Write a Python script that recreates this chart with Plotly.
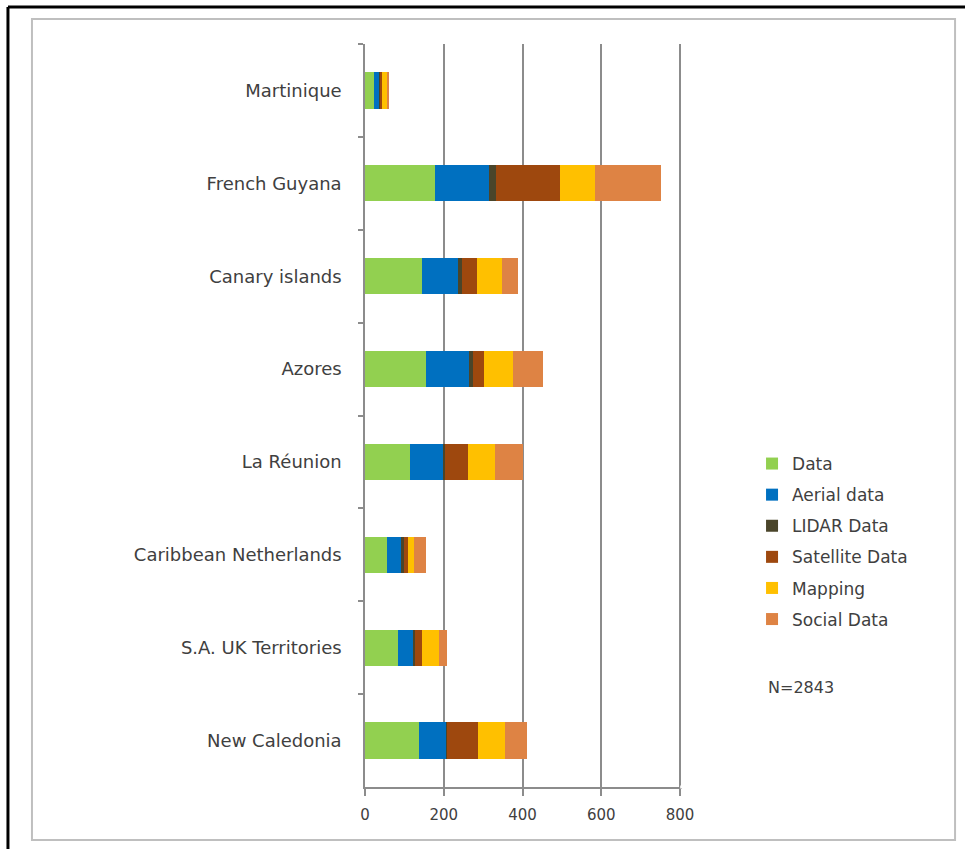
import plotly.graph_objects as go

# Regions, listed from top to bottom of the chart
regions = [
    "Martinique",
    "French Guyana",
    "Canary islands",
    "Azores",
    "La Réunion",
    "Caribbean Netherlands",
    "S.A. UK Territories",
    "New Caledonia",
]

data_vals = [23, 177, 145, 154, 115, 57, 85, 137]
aerial_vals = [13, 137, 91, 111, 84, 36, 39, 70]
lidar_vals = [4, 19, 10, 10, 3, 5, 3, 2]
satellite_vals = [4, 162, 39, 28, 60, 12, 18, 78]
mapping_vals = [13, 89, 63, 74, 68, 14, 42, 68]
social_vals = [4, 167, 41, 76, 71, 30, 20, 57]

x_ticks = [0, 200, 400, 600, 800]
n_label = "N=2843"

series = [
    ("Data", data_vals, "#92D050"),
    ("Aerial data", aerial_vals, "#0070C0"),
    ("LIDAR Data", lidar_vals, "#4A452A"),
    ("Satellite Data", satellite_vals, "#9E480E"),
    ("Mapping", mapping_vals, "#FFC000"),
    ("Social Data", social_vals, "#DE8344"),
]

FONT = "DejaVu Sans"
TEXT = "#404040"
GRID = "#8C8C8C"

W, H = 965, 849
X_MAX = 805
L, T, B = 365, 44, 787          # plot area edges in pixels
R = L + 315 * X_MAX / 800        # so that 800 sits at x = 680


def px(x):
    return (x - L) / (R - L)


def py(y):
    return (B - y) / (B - T)


fig = go.Figure()
for i, (name, vals, color) in enumerate(series):
    fig.add_trace(go.Bar(
        name=name,
        y=regions,
        x=vals,
        orientation="h",
        marker=dict(color=color, line=dict(width=0)),
        legendgroup=f"g{i}",
    ))

fig.update_layout(
    width=W,
    height=H,
    barmode="stack",
    bargap=0.61,
    paper_bgcolor="white",
    plot_bgcolor="white",
    margin=dict(l=L, r=W - R, t=T, b=H - B, pad=0),
    font=dict(family=FONT, color=TEXT, size=15),
    showlegend=True,
    legend=dict(
        x=px(752), y=py(446), xanchor="left", yanchor="top",
        font=dict(family=FONT, size=17, color=TEXT),
        traceorder="grouped",
        tracegroupgap=6,
        itemwidth=30,
        bgcolor="rgba(0,0,0,0)",
    ),
    xaxis=dict(
        range=[0, X_MAX],
        tickvals=x_ticks,
        ticktext=[str(v) for v in x_ticks],
        showgrid=True,
        gridcolor=GRID,
        gridwidth=1.5,
        zeroline=False,
        showline=True,
        linecolor=GRID,
        linewidth=1.5,
        ticks="outside",
        ticklen=7,
        tickcolor=GRID,
        tickwidth=1.5,
        ticklabelstandoff=6,
        tickfont=dict(family=FONT, size=15, color=TEXT),
        fixedrange=True,
    ),
    yaxis=dict(
        type="category",
        categoryorder="array",
        categoryarray=regions,
        autorange="reversed",
        showgrid=False,
        zeroline=False,
        showline=True,
        linecolor=GRID,
        linewidth=1.5,
        ticks="outside",
        tickson="boundaries",
        ticklen=5,
        tickcolor=GRID,
        tickwidth=1.5,
        ticklabelstandoff=18,
        tickfont=dict(family=FONT, size=18, color=TEXT),
        fixedrange=True,
    ),
)

# Hide the axis line past 800 so it stops at the last gridline
fig.add_shape(type="line", xref="x", yref="paper",
              x0=800.5, x1=X_MAX + 1, y0=0, y1=0,
              line=dict(color="white", width=3), layer="above")

# Outer frame (left and top edges) and inner chart-area frame
fig.add_shape(type="line", xref="paper", yref="paper",
              x0=px(8), x1=px(8), y0=py(7), y1=py(849),
              line=dict(color="black", width=3), layer="above")
fig.add_shape(type="line", xref="paper", yref="paper",
              x0=px(8), x1=px(965), y0=py(7), y1=py(7),
              line=dict(color="black", width=3), layer="above")
fig.add_shape(type="rect", xref="paper", yref="paper",
              x0=px(32), x1=px(955), y0=py(19), y1=py(840),
              line=dict(color="#BFBFBF", width=2), layer="below")

fig.add_annotation(
    text=n_label, xref="paper", yref="paper",
    x=px(801), y=py(687), xanchor="center", yanchor="middle",
    showarrow=False, font=dict(family=FONT, size=16, color=TEXT),
)

fig.write_html("out.html")
